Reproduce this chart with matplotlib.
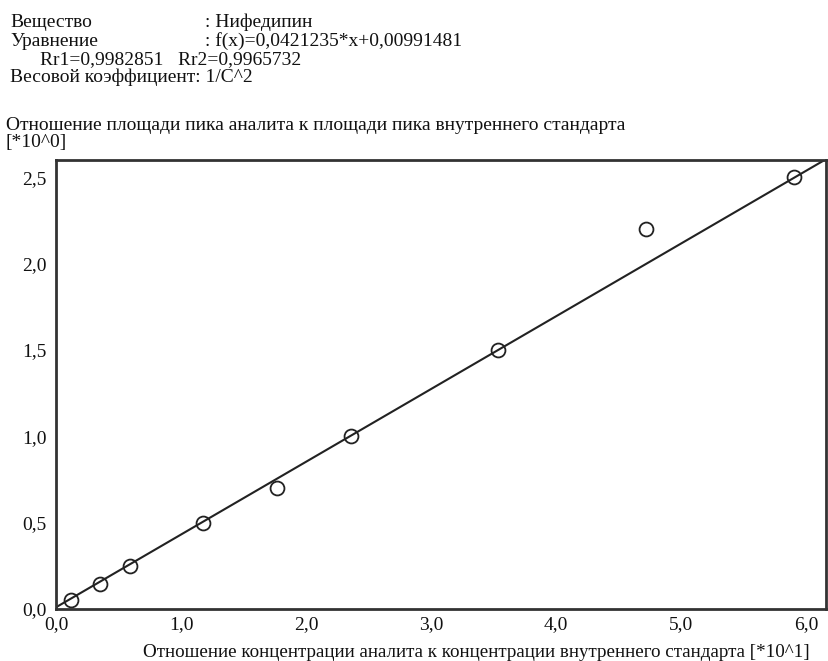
import numpy as np
import matplotlib
matplotlib.use("Agg")
import matplotlib.pyplot as plt

# Calibration data: concentration ratio [*10^1] vs. peak area ratio [*10^0]
conc_ratio = [0.118, 0.354, 0.59, 1.18, 1.77, 2.36, 3.54, 4.72, 5.90]
area_ratio = [0.05, 0.145, 0.25, 0.50, 0.70, 1.00, 1.50, 2.20, 2.50]

# Regression f(x) = a*x + b in original units (x in *10^0), plotted in *10^1
slope = 0.0421235
intercept = 0.00991481

x_ticks = [0, 1, 2, 3, 4, 5, 6]
x_tick_labels = ["0,0", "1,0", "2,0", "3,0", "4,0", "5,0", "6,0"]
y_ticks = [0, 0.5, 1.0, 1.5, 2.0, 2.5]
y_tick_labels = ["0,0", "0,5", "1,0", "1,5", "2,0", "2,5"]

header_lines = [
    ("Вещество", ": Нифедипин"),
    ("Уравнение", ": f(x)=0,0421235*x+0,00991481"),
]
rr_line = "Rr1=0,9982851   Rr2=0,9965732"
weight_line = "Весовой коэффициент: 1/C^2"
y_title = "Отношение площади пика аналита к площади пика внутреннего стандарта"
y_unit = "[*10^0]"
x_title = "Отношение концентрации аналита к концентрации внутреннего стандарта [*10^1]"

plt.rcParams["font.family"] = ["Liberation Serif", "DejaVu Serif"]

W, H = 829, 661
fig = plt.figure(figsize=(W / 100, H / 100), dpi=100)

def px(x, y):
    return x / W, 1 - y / H

FS = 14
TC = "#111111"
ax = fig.add_axes([56 / W, 1 - 609 / H, (826 - 56) / W, (609 - 160) / H])

xmax, ymax = 6.16, 2.60
ax.set_xlim(0, xmax)
ax.set_ylim(0, ymax)

# regression line across the whole plotting range
xl = np.array([0, xmax])
ax.plot(xl, slope * 10 * xl + intercept, color="#222222", lw=1.5, zorder=2)
ax.plot(conc_ratio, area_ratio, linestyle="none", marker="o", ms=10,
        mfc="none", mec="#222222", mew=1.3, zorder=3)

ax.set_xticks(x_ticks)
ax.set_xticklabels(x_tick_labels, fontsize=FS, color=TC)
ax.set_yticks(y_ticks)
ax.set_yticklabels(y_tick_labels, fontsize=FS, color=TC)
ax.tick_params(length=0)
ax.tick_params(axis="x", pad=5)
ax.tick_params(axis="y", pad=7)
for s in ax.spines.values():
    s.set_linewidth(2.0)
    s.set_color("#333333")

# header block
xa, xb = 10, 205
baselines = [27, 45.5]
for (a, b), yb in zip(header_lines, baselines):
    fig.text(*px(xa, yb), a, fontsize=FS, va="baseline", ha="left", color=TC)
    fig.text(*px(xb, yb), b, fontsize=FS, va="baseline", ha="left", color=TC)
fig.text(*px(40, 64), rr_line, fontsize=FS, va="baseline", ha="left", color=TC)
fig.text(*px(xa, 82.5), weight_line, fontsize=FS, va="baseline", ha="left", color=TC)

fig.text(*px(6, 130), y_title, fontsize=FS, va="baseline", ha="left", color=TC)
fig.text(*px(6, 147), y_unit, fontsize=FS, va="baseline", ha="left", color=TC)
fig.text(*px(810, 657), x_title, fontsize=13.7, va="baseline", ha="right", color=TC)

fig.savefig("out.png", dpi=100)
